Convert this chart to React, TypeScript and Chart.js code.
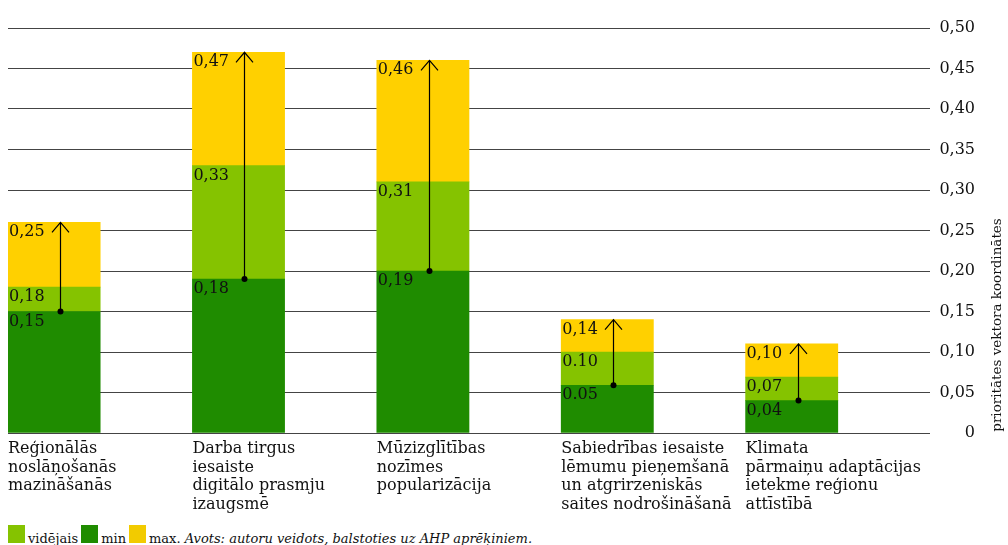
import React, { useEffect, useRef } from "react";
import { Chart, registerables } from "chart.js";

Chart.register(...registerables);

const categories: string[][] = [
  ["Reģionālās", "noslāņošanās", "mazināšanās"],
  ["Darba tirgus", "iesaiste", "digitālo prasmju", "izaugsmē"],
  ["Mūzizglītības", "nozīmes", "popularizācija"],
  ["Sabiedrības iesaiste", "lēmumu pieņemšanā", "un atgrirzeniskās", "saites nodrošināšanā"],
  ["Klimata", "pārmaiņu adaptācijas", "ietekme reģionu", "attīstībā"],
];

const minValues = [0.15, 0.19, 0.2, 0.059, 0.04];
const avgValues = [0.18, 0.33, 0.31, 0.1, 0.069];
const maxValues = [0.26, 0.47, 0.46, 0.14, 0.11];

const minLabels = ["0,15", "0,18", "0,19", "0.05", "0,04"];
const avgLabels = ["0,18", "0,33", "0,31", "0.10", "0,07"];
const maxLabels = ["0,25", "0,47", "0,46", "0,14", "0,10"];

const yAxisTitle = "prioritātes vektora koordinātes";
const legendNames = ["vidējais", "min", "max."];
const sourceNote = "Avots: autoru veidots, balstoties uz AHP aprēķiniem.";

const COLOR_MIN = "#1f8c00";
const COLOR_AVG = "#85c300";
const COLOR_MAX = "#ffd000";
const FONT = "'DejaVu Serif', serif";

export default function App() {
  const ref = useRef<HTMLCanvasElement>(null);

  useEffect(() => {
    const canvas = ref.current;
    if (!canvas) return;

    const overlay = {
      id: "overlay",
      afterDatasetsDraw(chart: any) {
        const ctx = chart.ctx;
        const y = chart.scales.y;
        const meta = chart.getDatasetMeta(0);
        ctx.save();
        ctx.fillStyle = "#111";
        ctx.font = `16px ${FONT}`;
        ctx.textAlign = "left";
        ctx.textBaseline = "alphabetic";
        meta.data.forEach((bar: any, i: number) => {
          const left = bar.x - bar.width / 2;
          const segs: [number, string][] = [
            [minValues[i], minLabels[i]],
            [avgValues[i], avgLabels[i]],
            [maxValues[i], maxLabels[i]],
          ];
          segs.forEach(([v, t]) => {
            const top = y.getPixelForValue(v);
            ctx.fillText(t, left + 1, top + 14);
          });
          // arrow
          const cx = Math.round(bar.x + 6) + 0.5;
          const y0 = y.getPixelForValue(minValues[i]);
          const y1 = y.getPixelForValue(maxValues[i]);
          ctx.strokeStyle = "#000";
          ctx.lineWidth = 1.2;
          ctx.beginPath();
          ctx.moveTo(cx, y0);
          ctx.lineTo(cx, y1);
          ctx.moveTo(cx - 8.5, y1 + 10);
          ctx.lineTo(cx, y1);
          ctx.lineTo(cx + 8.5, y1 + 10);
          ctx.stroke();
          ctx.beginPath();
          ctx.fillStyle = "#000";
          ctx.arc(cx, y0, 3, 0, Math.PI * 2);
          ctx.fill();
          ctx.fillStyle = "#111";
          // category labels
          const base = chart.chartArea.bottom + 20;
          categories[i].forEach((line, k) => {
            ctx.fillText(line, left, base + k * 18.7);
          });
        });
        // axis title
        ctx.save();
        ctx.font = `13.5px ${FONT}`;
        ctx.textAlign = "center";
        ctx.textBaseline = "middle";
        ctx.translate(997, 325);
        ctx.rotate(-Math.PI / 2);
        ctx.fillText(yAxisTitle, 0, 0);
        ctx.restore();
        ctx.restore();
      },
    };

    const chart = new Chart(canvas, {
      type: "bar",
      data: {
        labels: categories.map((c) => c.join(" ")),
        datasets: [
          {
            label: legendNames[1],
            data: minValues,
            backgroundColor: COLOR_MIN,
            stack: "a",
          },
          {
            label: legendNames[0],
            data: avgValues.map((v, i) => v - minValues[i]),
            backgroundColor: COLOR_AVG,
            stack: "a",
          },
          {
            label: legendNames[2],
            data: maxValues.map((v, i) => v - avgValues[i]),
            backgroundColor: COLOR_MAX,
            stack: "a",
          },
          {
            label: "",
            data: minValues.map(() => 0),
            backgroundColor: "rgba(0,0,0,0)",
            stack: "b",
          },
        ],
      },
      options: {
        responsive: false,
        animation: false,
        devicePixelRatio: 1,
        layout: { padding: { left: 8, top: 28, right: 33, bottom: 87 } },
        datasets: {
          bar: { categoryPercentage: 1, barPercentage: 1, borderWidth: 0 },
        },
        plugins: {
          legend: { display: false },
          tooltip: { enabled: false },
          title: { display: false },
        },
        scales: {
          x: { display: false, stacked: true },
          y: {
            position: "right",
            stacked: true,
            min: 0,
            max: 0.5,
            border: { display: false },
            grid: { color: "#444", lineWidth: 1, drawTicks: false },
            ticks: {
              stepSize: 0.05,
              padding: 10,
              crossAlign: "far",
              color: "#111",
              font: { family: FONT, size: 16 },
              callback: (v: any) => {
                const n = Number(v);
                if (Math.abs(n) < 1e-9) return "0";
                return n.toFixed(2).replace(".", ",");
              },
            },
            afterFit: (s: any) => {
              s.width = 45;
            },
          },
        },
      },
      plugins: [overlay],
    });
    return () => chart.destroy();
  }, []);

  const sq = (c: string) => (
    <span
      style={{
        display: "inline-block",
        width: 17,
        height: 18,
        background: c,
        marginRight: 3,
      }}
    />
  );

  return (
    <div style={{ position: "absolute", left: 0, top: 0, width: 1008, height: 545, background: "#fff" }}>
      <canvas ref={ref} width={1008} height={520} style={{ display: "block" }} />
      <div
        style={{
          position: "absolute",
          left: 8,
          top: 525,
          fontFamily: FONT,
          fontSize: 13,
          lineHeight: "20px",
          color: "#111",
          whiteSpace: "nowrap",
        }}
      >
        {sq(COLOR_AVG)}
        <span style={{ marginRight: 3 }}>{legendNames[0]}</span>
        {sq(COLOR_MIN)}
        <span style={{ marginRight: 3 }}>{legendNames[1]}</span>
        {sq("#f2cb00")}
        <span>{legendNames[2]} </span>
        <i>{sourceNote}</i>
      </div>
    </div>
  );
}
